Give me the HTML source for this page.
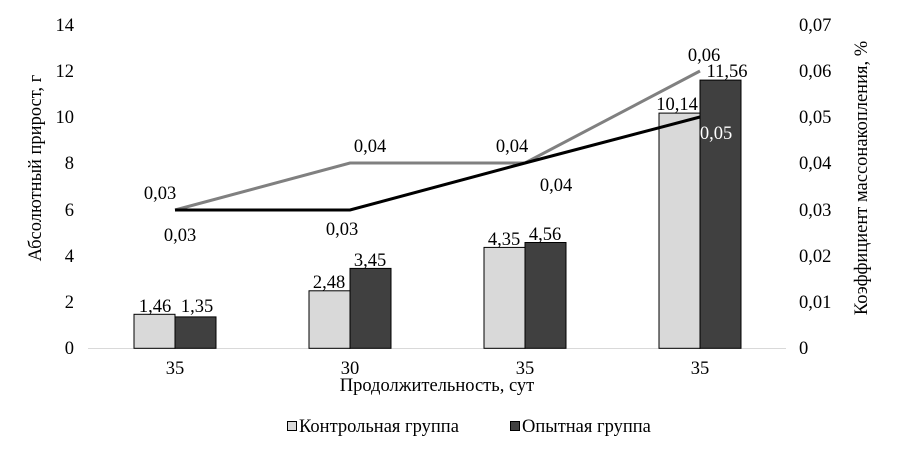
<!DOCTYPE html><html><head><meta charset="utf-8"><style>body{margin:0;background:#fff}svg{display:block}text{font-family:"Liberation Serif",serif;font-size:18.5px;fill:#000}</style></head><body>
<svg width="897" height="457" viewBox="0 0 897 457">
<g text-anchor="end">
<text x="74" y="31">14</text><text x="74" y="77">12</text><text x="74" y="123">10</text><text x="74" y="169">8</text><text x="74" y="216">6</text><text x="74" y="262">4</text><text x="74" y="308">2</text><text x="74" y="354">0</text>
</g>
<g text-anchor="start">
<text x="799" y="31">0,07</text><text x="799" y="77">0,06</text><text x="799" y="123">0,05</text><text x="799" y="169">0,04</text><text x="799" y="216">0,03</text><text x="799" y="262">0,02</text><text x="799" y="308">0,01</text><text x="799" y="354">0</text>
</g>
<text transform="translate(41,168) rotate(-90)" text-anchor="middle">Абсолютный прирост, г</text>
<text transform="translate(867,178) rotate(-90)" text-anchor="middle">Коэффициент массонакопления, %</text>
<line x1="88" y1="348.5" x2="786" y2="348.5" stroke="#d9d9d9"/>
<g stroke="#000" stroke-width="1">
<rect x="134" y="314.3" width="41" height="34" fill="#d9d9d9"/>
<rect x="175" y="316.9" width="41" height="31.4" fill="#404040"/>
<rect x="309" y="290.8" width="41" height="57.5" fill="#d9d9d9"/>
<rect x="350" y="268.4" width="41" height="79.9" fill="#404040"/>
<rect x="484" y="247.4" width="41" height="100.9" fill="#d9d9d9"/>
<rect x="525" y="242.5" width="41" height="105.8" fill="#404040"/>
<rect x="659" y="113.1" width="41" height="235.2" fill="#d9d9d9"/>
<rect x="700" y="80.1" width="41" height="268.2" fill="#404040"/>
</g>
<polyline points="175,210 350,163 525,163 700,71" fill="none" stroke="#808080" stroke-width="3"/>
<polyline points="175,210 350,210 525,163 700,117" fill="none" stroke="#000" stroke-width="3"/>
<g text-anchor="middle">
<text x="155" y="312">1,46</text><text x="197" y="312">1,35</text>
<text x="329" y="288">2,48</text><text x="370" y="266">3,45</text>
<text x="504" y="245">4,35</text><text x="545" y="240">4,56</text>
<text x="677" y="110">10,14</text><text x="727" y="77">11,56</text>
<text x="160" y="199">0,03</text><text x="180" y="241">0,03</text>
<text x="370" y="152">0,04</text><text x="342" y="235">0,03</text>
<text x="512" y="152">0,04</text><text x="556" y="191">0,04</text>
<text x="704" y="61">0,06</text><text x="716" y="139" style="fill:#fff">0,05</text>
<text x="175" y="374">35</text><text x="350" y="374">30</text><text x="525" y="374">35</text><text x="700" y="374">35</text>
<text x="437" y="391">Продолжительность, сут</text>
</g>
<rect x="287.5" y="421.5" width="9" height="9" fill="#d9d9d9" stroke="#000"/>
<text x="299" y="432">Контрольная группа</text>
<rect x="510.5" y="421.5" width="9" height="9" fill="#404040" stroke="#000"/>
<text x="522" y="432">Опытная группа</text>
</svg></body></html>
